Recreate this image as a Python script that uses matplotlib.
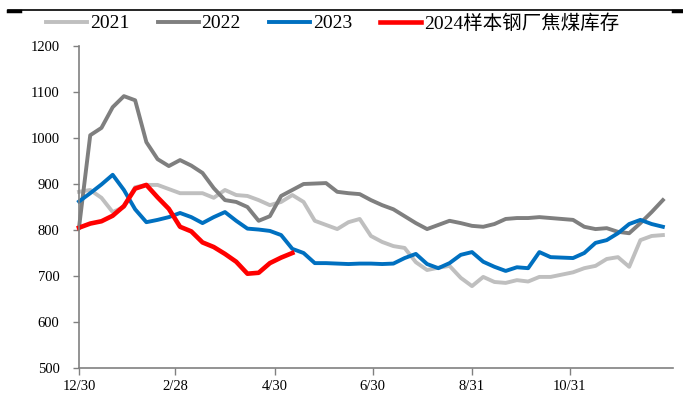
import pandas as pd
import matplotlib
matplotlib.use('Agg')
import matplotlib.pyplot as plt
from matplotlib.lines import Line2D

plt.rcParams['font.family'] = ['Liberation Serif', 'Noto Sans CJK SC']

# weekly sample-mill coking coal stocks (10k t), one row per year
v2021 = [883, 887, 870, 839, 850, 893, 898, 898, 889, 880, 880, 880, 870, 887, 876, 874,
         865, 854, 861, 876, 861, 820, 811, 802, 817, 824, 787, 774, 765, 761, 730, 713,
         718, 722, 696, 678, 698, 687, 685, 691, 688, 698, 698, 703, 708, 717, 722, 737,
         741, 720, 778, 787, 789]
v2022 = [805, 1006, 1022, 1067, 1091, 1082, 991, 954, 939, 952, 940, 924, 891, 865, 861, 850,
         820, 830, 874, 887, 900, 901, 902, 883, 880, 878, 865, 854, 845, 830, 815, 802,
         811, 820, 815, 809, 807, 813, 824, 826, 826, 828, 826, 824, 822, 807, 802, 804,
         796, 793, 815, 839, 865]
v2023 = [862, 880, 899, 920, 887, 845, 817, 822, 828, 837, 828, 815, 828, 839, 820, 803,
         801, 798, 789, 759, 750, 728, 728, 727, 726, 727, 727, 726, 727, 739, 748, 726,
         717, 728, 746, 752, 731, 720, 711, 719, 717, 752, 741, 740, 739, 750, 772, 778,
         793, 813, 822, 813, 807]
v2024 = [805, 814, 819, 831, 852, 890, 898, 871, 846, 807, 797, 773, 763, 748, 731, 705,
         707, 728, 740, 750]

dates = pd.date_range('2023-12-30', periods=len(v2021), freq='7D')
tick_dates = pd.to_datetime(['2023-12-30', '2024-02-28', '2024-04-30',
                             '2024-06-30', '2024-08-31', '2024-10-31'])
tick_labels = ['12/30', '2/28', '4/30', '6/30', '8/31', '10/31']

fig = plt.figure(figsize=(6.83, 3.94), dpi=100)
ax = fig.add_axes([79 / 683, 26 / 394, 593.5 / 683, 322 / 394])

ax.plot(dates, v2021, color='#BFBFBF', lw=2.8, label='2021', clip_on=False)
ax.plot(dates, v2022, color='#7F7F7F', lw=2.8, label='2022', clip_on=False)
ax.plot(dates, v2023, color='#0070C0', lw=2.8, label='2023', clip_on=False)
ax.plot(dates[:len(v2024)], v2024, color='#FF0000', lw=3.3,
        label='2024样本钢厂焦煤库存', clip_on=False)

ax.set_ylim(500, 1200)
ax.set_yticks(range(500, 1201, 100))
ax.set_xlim(dates[0], dates[0] + pd.Timedelta(days=370))
ax.set_xticks(tick_dates)
ax.set_xticklabels(tick_labels)

for s in ['top', 'right']:
    ax.spines[s].set_visible(False)
for s in ['left', 'bottom']:
    ax.spines[s].set_color('#808080')
    ax.spines[s].set_linewidth(1.2)
ax.tick_params(axis='y', length=4, width=1, color='#808080', pad=10, labelsize=10.5)
ax.tick_params(axis='x', length=5, width=1, color='#808080', pad=4, labelsize=10.5)

ax.legend(loc='upper left', bbox_to_anchor=(-0.055, 1.10), ncol=4, frameon=False,
          fontsize=14, handlelength=2.1, handletextpad=0.15, columnspacing=1.45,
          borderaxespad=0, borderpad=0)

# rule across the top of the panel
fig.add_artist(Line2D([8 / 683, 1], [1 - 10 / 394] * 2, color='black', lw=1.2,
                      transform=fig.transFigure))
fig.add_artist(Line2D([8 / 683, 20 / 683], [1 - 11 / 394] * 2, color='black', lw=2.5,
                      transform=fig.transFigure))
fig.add_artist(Line2D([673 / 683, 1], [1 - 11 / 394] * 2, color='black', lw=2.5,
                      transform=fig.transFigure))

fig.savefig('out.png', dpi=100)
